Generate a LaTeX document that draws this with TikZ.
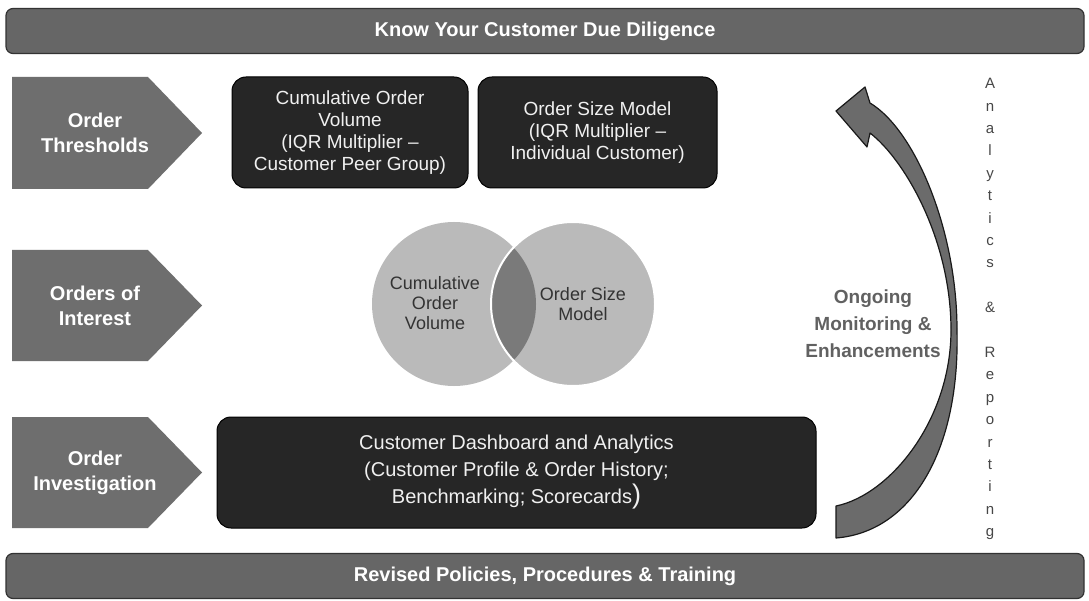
\documentclass[tikz,border=0pt]{standalone}
\usepackage{fontspec}
\setmainfont{Liberation Sans}
\newcommand\myfs[2]{\fontsize{#1pt}{#2pt}\selectfont}
\begin{document}
\begin{tikzpicture}[x=1pt,y=-1pt,
  bar/.style={draw=black!80, line width=1.2pt, fill=black!60, rounded corners=7pt,
    minimum width=1078pt, minimum height=45pt, text=white, font=\bfseries\myfs{20}{24}},
  pent/.style={fill=black!57, draw=none},
  penttext/.style={text=white, font=\bfseries\myfs{20}{25}, align=center},
  darkbox/.style={draw=black, line width=1pt, fill=black!85, rounded corners=14pt,
    text=white!94!black, align=center, font=\myfs{19}{22}, inner sep=0pt},
  venntext/.style={text=black!80, font=\myfs{18}{20}, align=center},
  cycletext/.style={text=black!62, font=\bfseries\myfs{19}{27}, align=center},
  sidetext/.style={text=black!72, font=\myfs{15}{22.4}, align=center},
  bigarrow/.style={fill=black!58, draw=black!90, line width=1.2pt, line join=round}
]
\useasboundingbox (0,0) rectangle (1089,601);
\fill[white] (0,0) rectangle (1089,601);

% bars
\node[bar] (kyc) at (545,31) {Know Your Customer Due Diligence};
\node[bar] (rev) at (545,576) {Revised Policies, Procedures \& Training};

% pentagons
\fill[pent] (12,77) -- (148,77) -- (202,133) -- (148,189) -- (12,189) -- cycle;
\node[penttext] (thr) at (95,133) {Order\\Thresholds};
\fill[pent] (12,250) -- (148,250) -- (202,305.5) -- (148,361) -- (12,361) -- cycle;
\node[penttext] (ooi) at (95,305.5) {Orders of\\Interest};
\fill[pent] (12,417) -- (148,417) -- (202,472.5) -- (148,528) -- (12,528) -- cycle;
\node[penttext] (oinv) at (95,472.5) {Order\\Investigation};

% dark boxes
\node[darkbox, minimum width=236pt, minimum height=111pt] (cov) at (350,132.5)
  {Cumulative Order\\Volume\\(IQR Multiplier –\\Customer Peer Group)};
\node[darkbox, minimum width=239pt, minimum height=111pt] (osm) at (597.5,132.5)
  {Order Size Model\\(IQR Multiplier –\\Individual Customer)};
\node[darkbox, minimum width=599pt, minimum height=111pt, font=\myfs{20}{27}] (cda) at (516.5,472.5)
  {Customer Dashboard and Analytics\\(Customer Profile \& Order History;\\Benchmarking; Scorecards{\myfs{27}{27})}};

% venn
\coordinate (cl) at (454,304);
\coordinate (cr) at (573,304);
\fill[black!27] (cl) circle (82pt);
\fill[black!27] (cr) circle (82pt);
\begin{scope}
  \clip (cl) circle (82pt);
  \fill[black!52] (cr) circle (82pt);
\end{scope}
\draw[white, line width=2pt] (cr) circle (82pt);
\node[venntext] (vcov) at (435,303) {Cumulative\\Order\\Volume};
\node[venntext] (vosm) at (583,304) {Order Size\\Model};

% curved arrow
\path[bigarrow] (870,103) -- (865,87) -- (836,111) -- (867,147) -- (870,133)
  .. controls (905,160) and (951,240) .. (951,330)
  .. controls (951,420) and (890,495) .. (836,506)
  -- (836,538)
  .. controls (912,532) and (960,450) .. (957,330)
  .. controls (957,230) and (915,130) .. (870,103) -- cycle;

\node[cycletext] (ome) at (873,324) {Ongoing\\Monitoring \&\\Enhancements};

\node[sidetext] (anr) at (990,309) {A\\n\\a\\l\\y\\t\\i\\c\\s\\\strut\\\&\\\strut\\R\\e\\p\\o\\r\\t\\i\\n\\g};
\end{tikzpicture}
\end{document}
